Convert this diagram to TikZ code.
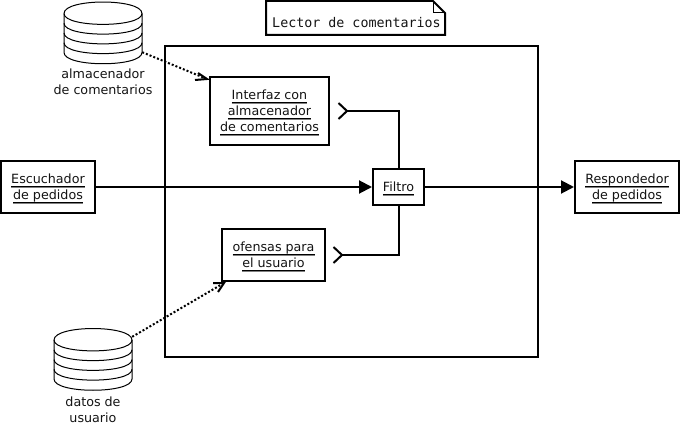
\documentclass[tikz,border=0pt]{standalone}
\usepackage{fontspec}
\setmainfont{DejaVu Sans}
\setmonofont{DejaVu Sans Mono}
\usetikzlibrary{arrows.meta}
\definecolor{ink}{gray}{0.08}
\definecolor{ulgrey}{gray}{0.5}
\newsavebox{\ulbox}
\newcommand{\ulx}[1]{\sbox{\ulbox}{#1}\leavevmode\raisebox{-2pt}[\height][\depth]{\rlap{\textcolor{black}{\rule[-3.2pt]{\wd\ulbox}{0.9pt}}}\rlap{\textcolor{ulgrey}{\rule[-4.2pt]{\wd\ulbox}{1pt}}}\usebox{\ulbox}}}
\newcommand{\dbcyl}[2]{%
  \fill[white] (#1,#2) .. controls +(0,-15.3) and +(0,-15.3) .. ++(78,0) -- ++(0,39) .. controls +(0,15) and +(0,15) .. ++(-78,0) -- cycle;
  \draw[cylline] (#1,#2) .. controls +(0,-15.3) and +(0,-15.3) .. ++(78,0) -- ++(0,39) .. controls +(0,15) and +(0,15) .. ++(-78,0) -- cycle;
  \foreach \k in {0,9.75,19.5,29.25}{
    \draw[cylline] (#1,{#2+\k}) .. controls +(0,14.5) and +(0,14.5) .. ++(78,0);
  }
}
\tikzset{
  x=1pt,y=-1pt,
  every node/.style={font=\fontsize{12.7}{16}\selectfont,text=ink,inner sep=0pt,align=center},
  boxn/.style={draw=black,fill=white,line width=2pt,minimum width=#1,anchor=center},
  cylline/.style={draw=black,line width=1pt},
  flow/.style={draw=black,line width=2pt},
  solidtip/.style={flow,-{Triangle[length=13pt,width=13pt]}},
  dep/.style={draw=black,line width=2pt,dash pattern=on 2pt off 2pt,shorten >=1pt},
  fork/.style={draw=black,line width=2pt,line join=miter},
  ghost/.style={inner sep=0pt,minimum width=78pt,anchor=center}
}
\begin{document}
\begin{tikzpicture}
\useasboundingbox (0,0) rectangle (680,425);
\node[draw=black,line width=2pt,minimum width=373pt,minimum height=311pt] (main) at (351.5,201.5) {};

% note
\draw[draw=black,line width=2pt,fill=white] (266,1) -- (433,1) -- (445,13) -- (445,35) -- (266,35) -- cycle;
\draw[draw=black,line width=1pt] (433,1) -- (433,13) -- (445,13);
\node[font=\ttfamily\fontsize{13.33}{16}\selectfont] (title) at (356.5,22.5) {Lector de comentarios};

% stores
\dbcyl{64}{13.5}
\dbcyl{54}{340}
\node[ghost,minimum height=51pt] (store1) at (103,26.5) {};
\node[ghost,minimum height=53pt] (store2) at (93,363.5) {};
\node (store1label) at (103,82) {almacenador\\de comentarios};
\node (store2label) at (93,409.5) {datos de\\usuario};

% boxes
\node[boxn=119pt,minimum height=68pt] (ifz) at (269.5,111) {\ulx{Interfaz con}\\\ulx{almacenador}\\\ulx{de comentarios}};
\node[boxn=103pt,minimum height=52pt] (ofs) at (273.5,255) {\ulx{ofensas para}\\\ulx{el usuario}};
\node[boxn=51pt,minimum height=36pt] (filtro) at (398.5,187) {\ulx{Filtro}};
\node[boxn=94pt,minimum height=52pt] (esc) at (48,187) {\ulx{Escuchador}\\\ulx{de pedidos}};
\node[boxn=104pt,minimum height=52pt] (resp) at (627,187) {\ulx{Respondedor}\\\ulx{de pedidos}};

% flows
\draw[solidtip] (esc.east) -- (filtro.west);
\draw[solidtip] (filtro.east) -- (resp.west);

% required interfaces
\coordinate (ifzv) at (347,111);
\coordinate (ofsv) at (342,255);
\draw[flow] (filtro.north) |- (ifzv);
\draw[flow] (filtro.south) |- (ofsv);
\draw[fork] ([shift={(-8.5,-8)}]ifzv) -- (ifzv) -- ([shift={(-8.5,8)}]ifzv);
\draw[fork] ([shift={(-8.5,-8)}]ofsv) -- (ofsv) -- ([shift={(-8.5,8)}]ofsv);

% dependencies
\coordinate (ifzend) at ([shift={(-2,3)}]ifz.north west);
\coordinate (ofsend) at ([shift={(3,1)}]ofs.south west);
\draw[dep] (store1.south east) -- (ifzend);
\draw[dep] (store2.north east) -- (ofsend);
\draw[draw=black,line width=2pt] ([shift={(-9,-6)}]ifzend) -- (ifzend) -- ([shift={(-12,1)}]ifzend);
\draw[draw=black,line width=2pt] ([shift={(-11,0)}]ofsend) -- (ofsend) -- ([shift={(-6,9)}]ofsend);
\end{tikzpicture}
\end{document}
